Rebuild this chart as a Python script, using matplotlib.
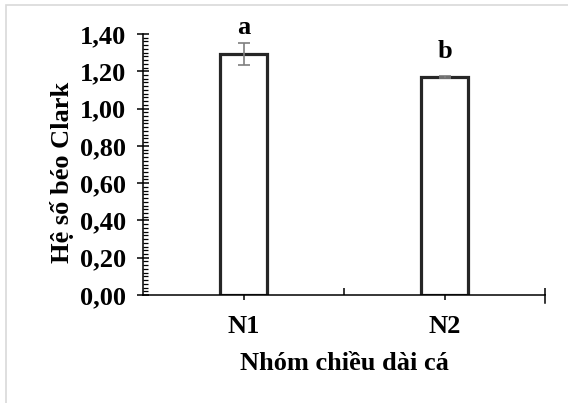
import matplotlib
matplotlib.use("Agg")
import matplotlib.pyplot as plt
from matplotlib.ticker import MultipleLocator, FixedLocator, FuncFormatter
from matplotlib.lines import Line2D
from matplotlib.patches import Rectangle

groups = ["N1", "N2"]
values = [1.293, 1.170]
errors = [0.060, 0.004]
letters = ["a", "b"]
letter_y = [1.40, 1.27]

plt.rcParams["font.family"] = "serif"
plt.rcParams["font.serif"] = ["Liberation Serif", "DejaVu Serif"]
plt.rcParams["font.weight"] = "bold"
FS = 19

fig = plt.figure(figsize=(5.68, 4.03), dpi=100)
ax = fig.add_axes([0.2518, 0.268, 0.7077, 0.6476])

x = list(range(len(groups)))
ax.bar(x, values, width=0.23, color="white", edgecolor="#262626", linewidth=2.3, zorder=2)
ax.errorbar(x, values, yerr=errors, fmt="none", ecolor="#7f7f7f", elinewidth=1.2,
            capsize=4.3, capthick=1.2, zorder=3)
for xi, lab, ly in zip(x, letters, letter_y):
    ax.text(xi, ly, lab, ha="center", va="baseline", fontsize=FS, fontweight="bold")

ax.set_xlim(-0.5, 1.5)
ax.set_ylim(0, 1.4)

for s in ["top", "right"]:
    ax.spines[s].set_visible(False)
for s in ["left", "bottom"]:
    ax.spines[s].set_color("black")
    ax.spines[s].set_linewidth(1.1)

ax.yaxis.set_major_locator(MultipleLocator(0.2))
ax.yaxis.set_minor_locator(MultipleLocator(0.02))
ax.yaxis.set_major_formatter(FuncFormatter(lambda v, p: f"{v:.2f}".replace(".", ",")))
ax.tick_params(axis="y", which="major", direction="inout", length=8, width=1.1,
               labelsize=FS, pad=8)
ax.tick_params(axis="y", which="minor", direction="in", length=3.5, width=0.9)

ax.set_xticks(x)
ax.set_xticklabels(groups)
ax.xaxis.set_minor_locator(FixedLocator([0.5, 1.5]))
ax.tick_params(axis="x", which="major", direction="out", length=3.5, width=1.1,
               labelsize=FS, pad=11)
ax.tick_params(axis="x", which="minor", direction="in", length=5, width=1.1)
for t in ax.get_xticklabels() + ax.get_yticklabels():
    t.set_fontweight("bold")
# end tick crosses the axis
ax.add_line(Line2D([1.5, 1.5], [-0.03, 0], color="black", linewidth=1.1,
                   transform=ax.get_xaxis_transform(), clip_on=False))

ax.set_xlabel("Nhóm chiều dài cá", fontsize=FS, fontweight="bold", labelpad=10)
ax.set_ylabel("Hệ số béo Clark", fontsize=FS, fontweight="bold")
ax.yaxis.set_label_coords(-0.172, 0.47)

fig.patches.append(Rectangle((0.011, -0.01), 1.1, 0.998, transform=fig.transFigure,
                             fill=False, edgecolor="#d9d9d9", linewidth=1.2))

fig.savefig("out.png", dpi=100)
